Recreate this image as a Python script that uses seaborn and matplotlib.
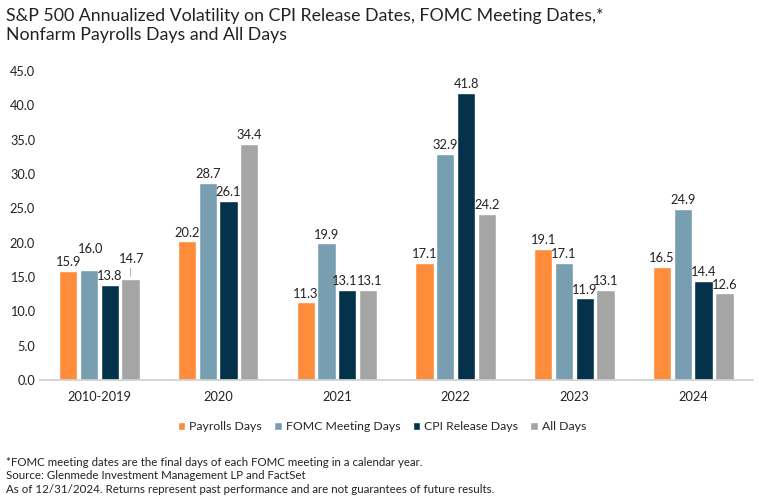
"""Recreate S&P 500 annualized volatility grouped bar chart."""

import matplotlib
matplotlib.use("Agg")
import matplotlib.pyplot as plt
import pandas as pd
import seaborn as sns

periods = ["2010-2019", "2020", "2021", "2022", "2023", "2024"]
series = ["Payrolls Days", "FOMC Meeting Days", "CPI Release Days", "All Days"]
payrolls = [15.9, 20.2, 11.3, 17.1, 19.1, 16.5]
fomc = [16.0, 28.7, 19.9, 32.9, 17.1, 24.9]
cpi = [13.8, 26.1, 13.1, 41.8, 11.9, 14.4]
all_days = [14.7, 34.4, 13.1, 24.2, 13.1, 12.6]
colors = ["#FF8C3A", "#789FB1", "#03324A", "#A5A5A5"]

title = ("S&P 500 Annualized Volatility on CPI Release Dates, FOMC Meeting Dates,*\n"
         "Nonfarm Payrolls Days and All Days")
notes = ("*FOMC meeting dates are the final days of each FOMC meeting in a calendar year.\n"
         "Source: Glenmede Investment Management LP and FactSet\n"
         "As of 12/31/2024. Returns represent past performance and are not "
         "guarantees of future results.")

# label nudges in points: (series index, period index) -> (dx, dy, leader line)
nudges = {(1, 0): (1, 9, False), (3, 0): (1, 8, True), (2, 2): (-2, 0, False),
          (3, 2): (1, 0, False)}

df = pd.DataFrame({
    "period": periods * 4,
    "series": [s for s in series for _ in periods],
    "value": payrolls + fomc + cpi + all_days,
})

sns.set_theme(style="white")
plt.rcParams["font.family"] = ["Lato", "DejaVu Sans"]

fig = plt.figure(figsize=(7.68, 5.0), dpi=100)
ax = fig.add_axes([0.052, 0.24, 0.928, 0.618])

sns.barplot(data=df, x="period", y="value", hue="series", order=periods,
            hue_order=series, palette=colors, width=0.7, gap=0.12,
            saturation=1, ax=ax)

for si, cont in enumerate(ax.containers):
    for pi, bar in enumerate(cont):
        h = bar.get_height()
        xc = bar.get_x() + bar.get_width() / 2
        dx, dy, line = nudges.get((si, pi), (0, 0, False))
        ax.annotate(f"{h:.1f}", (xc, h), xytext=(dx, 2 + dy),
                    textcoords="offset points", ha="center", va="bottom",
                    fontsize=9.3, color="#222222")
        if line:
            ax.annotate("", (xc, h), xytext=(0, dy + 2), textcoords="offset points",
                        arrowprops=dict(arrowstyle="-", color="#BBBBBB", lw=0.8))

ax.set_ylim(0, 45)
ax.set_yticks(range(0, 46, 5))
ax.set_yticklabels([f"{v:.1f}" for v in range(0, 46, 5)])
ax.set_xlabel("")
ax.set_ylabel("")
ax.tick_params(axis="both", labelsize=9.2, colors="#222222", length=0)
ax.tick_params(axis="x", pad=8)
for side in ["top", "right", "left"]:
    ax.spines[side].set_visible(False)
ax.spines["bottom"].set_color("#D0D0D0")

ax.legend(loc="upper center", bbox_to_anchor=(0.48, -0.097), ncol=4,
          frameon=False, fontsize=8.8, handlelength=0.6, handleheight=0.6,
          handletextpad=0.35, columnspacing=1.0)

fig.text(0.008, 0.985, title, ha="left", va="top", fontsize=12.75, color="#222222",
         linespacing=1.3)
fig.text(0.008, 0.087, notes, ha="left", va="top", fontsize=8.3, color="#222222",
         linespacing=1.33)

fig.savefig("out.png", dpi=100)
